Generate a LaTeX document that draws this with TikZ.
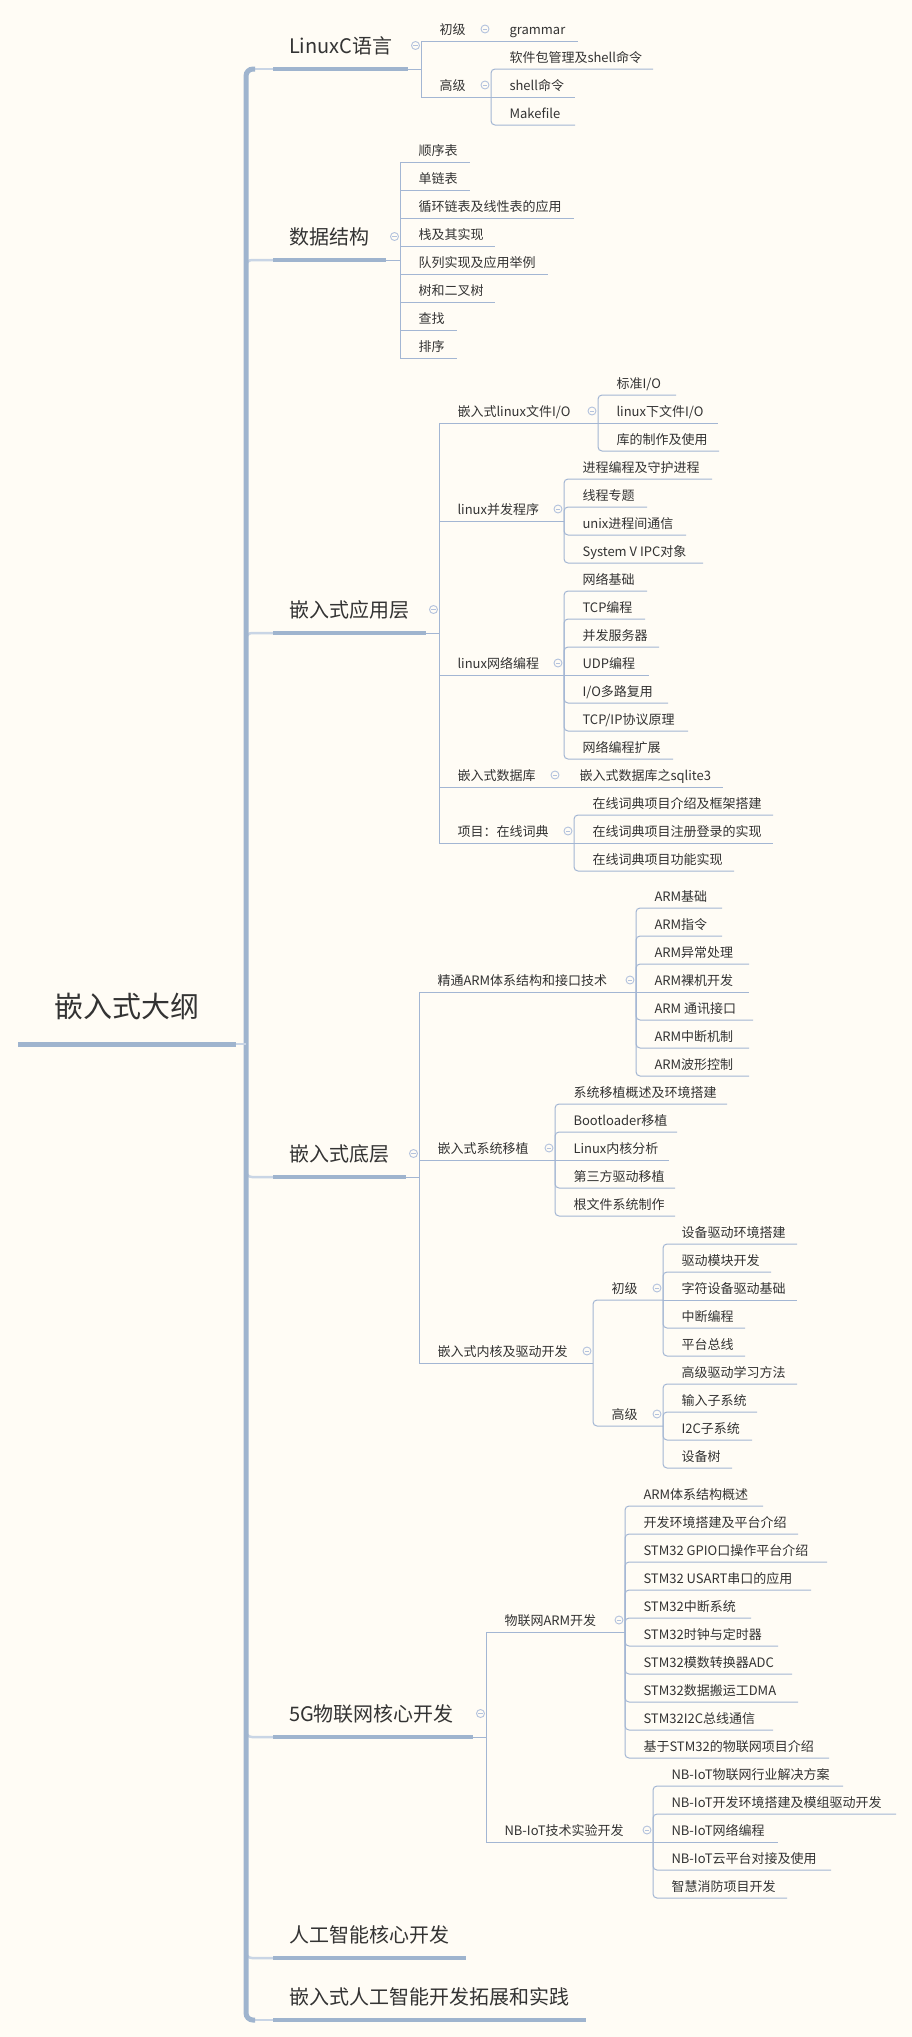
\documentclass[tikz,border=0pt]{standalone}
\usepackage{fontspec}
\setmainfont{Noto Sans CJK SC}
\definecolor{bgc}{HTML}{FFFCF5}
\definecolor{spinec}{HTML}{9FB4CE}
\definecolor{lightc}{HTML}{C9D5E5}
\definecolor{thinc}{HTML}{A3B6D3}
\definecolor{iconc}{HTML}{B3C2DD}
\definecolor{txtc}{HTML}{333333}
\tikzset{
  leafst/.style={anchor=base west, inner sep=0pt, outer sep=0pt, text=txtc, font=\fontsize{13}{15}\selectfont},
  mainst/.style={anchor=base west, inner sep=0pt, outer sep=0pt, text=txtc, font=\fontsize{20}{24}\selectfont},
  rootst/.style={anchor=base west, inner sep=0pt, outer sep=0pt, text=txtc, font=\fontsize{29}{34}\selectfont},
  thinl/.style={draw=thinc, line width=1pt},
  thickl/.style={draw=spinec, line width=4pt},
  rootl/.style={draw=spinec, line width=5pt},
  spinel/.style={draw=spinec, line width=5pt},
  lightl/.style={draw=lightc, line width=2.5pt},
  iconst/.style={draw=iconc, line width=0.9pt},
}
% rounded child connector: name, v, parent y, child y, end x, text
\newcommand\kidR[6]{\draw[thinl, rounded corners=4pt] (#2,#3) -- (#2,#4) -- (#5,#4); \node[leafst] (#1) at ({#2+18.5},{#4-7}) {#6};}
% square child connector
\newcommand\kidS[6]{\draw[thinl] (#2,#3) -- (#2,#4) -- (#5,#4); \node[leafst] (#1) at ({#2+18.5},{#4-7}) {#6};}
% child at parent's level: name, v, y, end, text
\newcommand\kidM[5]{\draw[thinl] (#2,#3) -- (#4,#3); \node[leafst] (#1) at ({#2+18.5},{#3-7}) {#5};}
\newcommand\foldicon[2]{\draw[iconst, fill=bgc] (#1,#2) circle[radius=4]; \draw[iconst] ({#1-2.2},#2) -- ({#1+2.2},#2);}
% main branch: name, ul y, ul end, v, text
\newcommand\mainnode[5]{\draw[thickl] (273,#2) -- (#3,#2); \draw[thinl] (#3,#2) -- (#4,#2); \node[mainst] (#1) at (289,{#2-16}) {#5};}
\begin{document}
\begin{tikzpicture}[x=1pt,y=-1pt]
\fill[bgc] (0,0) rectangle (912,2037);
\useasboundingbox (0,0) rectangle (912,2037);

% light connectors from spine
\draw[lightl] (252,69) -- (273,69);
\draw[lightl, rounded corners=6pt] (246,270) -- (246,260) -- (273,260);
\draw[lightl, rounded corners=6pt] (246,643) -- (246,633) -- (273,633);
\draw[lightl, rounded corners=6pt] (246,1167) -- (246,1177) -- (273,1177);
\draw[lightl, rounded corners=6pt] (246,1727) -- (246,1737) -- (273,1737);
\draw[lightl, rounded corners=6pt] (246,1948) -- (246,1958) -- (273,1958);
\draw[lightl] (252,2020) -- (273,2020);
% spine
\draw[spinel, rounded corners=7pt] (255,69) -- (246,69) -- (246,2020) -- (255,2020);

% root
\draw[rootl] (18,1044) -- (236,1044);
\draw[draw=lightc, line width=1.2pt] (236,1044) -- (246,1044);
\node[rootst] (root) at (54,1017) {嵌入式大纲};

% ---------- LinuxC语言
\mainnode{linuxc}{69}{408}{421}{LinuxC语言}
\foldicon{415.5}{45.5}
\kidS{lcA}{421}{69}{41}{578}{初级}
\foldicon{485}{29}
\node[leafst] (gram) at (509.5,34) {grammar};
\kidS{lcB}{421}{69}{97}{491}{高级}
\foldicon{485}{85}
\kidR{lcBa}{491}{97}{69}{653}{软件包管理及shell命令}
\kidM{lcBb}{491}{97}{575}{shell命令}
\kidR{lcBc}{491}{97}{125}{575}{Makefile}

% ---------- 数据结构
\mainnode{ds}{260}{386}{400}{数据结构}
\foldicon{394.5}{236.5}
\kidS{dsa}{400}{260}{162}{470}{顺序表}
\kidS{dsb}{400}{260}{190}{470}{单链表}
\kidS{dsc}{400}{260}{218}{574}{循环链表及线性表的应用}
\kidS{dsd}{400}{260}{246}{495}{栈及其实现}
\kidS{dse}{400}{260}{274}{548}{队列实现及应用举例}
\kidS{dsf}{400}{260}{302}{495}{树和二叉树}
\kidS{dsg}{400}{260}{330}{457}{查找}
\kidS{dsh}{400}{260}{358}{457}{排序}

% ---------- 嵌入式应用层
\mainnode{app}{633}{426}{439}{嵌入式应用层}
\foldicon{433.5}{609.5}
\kidS{fio}{439}{633}{423}{598}{嵌入式linux文件I/O}
\foldicon{592}{411}
\kidR{fioa}{598}{423}{395}{676}{标准I/O}
\kidM{fiob}{598}{423}{718}{linux下文件I/O}
\kidR{fioc}{598}{423}{451}{719}{库的制作及使用}
\kidS{conc}{439}{633}{521}{564}{linux并发程序}
\foldicon{558}{509}
\kidR{conca}{564}{521}{479}{712}{进程编程及守护进程}
\kidR{concb}{564}{521}{507}{647}{线程专题}
\kidR{concc}{564}{521}{535}{686}{unix进程间通信}
\kidR{concd}{564}{521}{563}{703}{System V IPC对象}
\kidS{net}{439}{633}{675}{564}{linux网络编程}
\foldicon{558}{663}
\kidR{neta}{564}{675}{591}{647}{网络基础}
\kidR{netb}{564}{675}{619}{645}{TCP编程}
\kidR{netc}{564}{675}{647}{659}{并发服务器}
\kidM{netd}{564}{675}{649}{UDP编程}
\kidR{nete}{564}{675}{703}{668}{I/O多路复用}
\kidR{netf}{564}{675}{731}{688}{TCP/IP协议原理}
\kidR{netg}{564}{675}{759}{673}{网络编程扩展}
\kidS{db}{439}{633}{787}{723}{嵌入式数据库}
\foldicon{555}{775}
\node[leafst] (dba) at (579.5,780) {嵌入式数据库之sqlite3};
\kidS{proj}{439}{633}{843}{574}{项目：在线词典}
\foldicon{568}{831}
\kidR{proja}{574}{843}{815}{773}{在线词典项目介绍及框架搭建}
\kidM{projb}{574}{843}{773}{在线词典项目注册登录的实现}
\kidR{projc}{574}{843}{871}{734}{在线词典项目功能实现}

% ---------- 嵌入式底层
\mainnode{low}{1177}{406}{419}{嵌入式底层}
\foldicon{413.5}{1153.5}
\kidS{arm}{419}{1177}{992}{636}{精通ARM体系结构和接口技术}
\foldicon{630}{980}
\kidR{arma}{636}{992}{908}{722}{ARM基础}
\kidR{armb}{636}{992}{936}{722}{ARM指令}
\kidR{armc}{636}{992}{964}{749}{ARM异常处理}
\kidM{armd}{636}{992}{749}{ARM裸机开发}
\kidR{arme}{636}{992}{1020}{753}{ARM 通讯接口}
\kidR{armf}{636}{992}{1048}{749}{ARM中断机制}
\kidR{armg}{636}{992}{1076}{749}{ARM波形控制}
\kidS{port}{419}{1177}{1160}{555}{嵌入式系统移植}
\foldicon{549}{1148}
\kidR{porta}{555}{1160}{1104}{727}{系统移植概述及环境搭建}
\kidR{portb}{555}{1160}{1132}{677}{Bootloader移植}
\kidM{portc}{555}{1160}{669}{Linux内核分析}
\kidR{portd}{555}{1160}{1188}{675}{第三方驱动移植}
\kidR{porte}{555}{1160}{1216}{675}{根文件系统制作}
\kidS{drv}{419}{1177}{1363}{593}{嵌入式内核及驱动开发}
\foldicon{587}{1351}
\kidR{drvA}{593}{1363}{1300}{663}{初级}
\foldicon{657}{1288}
\kidR{drvAa}{663}{1300}{1244}{797}{设备驱动环境搭建}
\kidR{drvAb}{663}{1300}{1272}{771}{驱动模块开发}
\kidM{drvAc}{663}{1300}{797}{字符设备驱动基础}
\kidR{drvAd}{663}{1300}{1328}{745}{中断编程}
\kidR{drvAe}{663}{1300}{1356}{745}{平台总线}
\kidR{drvB}{593}{1363}{1426}{663}{高级}
\foldicon{657}{1414}
\kidR{drvBa}{663}{1426}{1384}{797}{高级驱动学习方法}
\kidR{drvBb}{663}{1426}{1412}{757}{输入子系统}
\kidR{drvBc}{663}{1426}{1440}{752}{I2C子系统}
\kidR{drvBd}{663}{1426}{1468}{732}{设备树}

% ---------- 5G物联网核心开发
\mainnode{iot}{1737}{473}{486}{5G物联网核心开发}
\foldicon{480.5}{1713.5}
\kidS{iarm}{486}{1737}{1632}{625}{物联网ARM开发}
\foldicon{619}{1620}
\kidR{iarma}{625}{1632}{1506}{763}{ARM体系结构概述}
\kidR{iarmb}{625}{1632}{1534}{798}{开发环境搭建及平台介绍}
\kidR{iarmc}{625}{1632}{1562}{827}{STM32 GPIO口操作平台介绍}
\kidR{iarmd}{625}{1632}{1590}{811}{STM32 USART串口的应用}
\kidR{iarme}{625}{1632}{1618}{751}{STM32中断系统}
\kidR{iarmf}{625}{1632}{1646}{778}{STM32时钟与定时器}
\kidR{iarmg}{625}{1632}{1674}{792}{STM32模数转换器ADC}
\kidR{iarmh}{625}{1632}{1702}{798}{STM32数据搬运工DMA}
\kidR{iarmi}{625}{1632}{1730}{773}{STM32I2C总线通信}
\kidR{iarmj}{625}{1632}{1758}{829}{基于STM32的物联网项目介绍}
\kidS{nb}{486}{1737}{1842}{653}{NB-IoT技术实验开发}
\foldicon{647}{1830}
\kidR{nba}{653}{1842}{1786}{843}{NB-IoT物联网行业解决方案}
\kidR{nbb}{653}{1842}{1814}{896}{NB-IoT开发环境搭建及模组驱动开发}
\kidM{nbc}{653}{1842}{778}{NB-IoT网络编程}
\kidR{nbd}{653}{1842}{1870}{831}{NB-IoT云平台对接及使用}
\kidR{nbe}{653}{1842}{1898}{787}{智慧消防项目开发}

% ---------- childless main branches
\draw[thickl] (273,1958) -- (466,1958);
\node[mainst] (ai) at (289,1942) {人工智能核心开发};
\draw[thickl] (273,2020) -- (586,2020);
\node[mainst] (eai) at (289,2004) {嵌入式人工智能开发拓展和实践};
\end{tikzpicture}
\end{document}
